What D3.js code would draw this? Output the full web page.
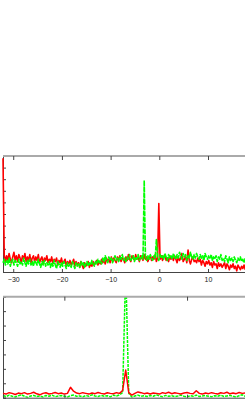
<!DOCTYPE html>
<html>
<head>
<meta charset="utf-8">
<script src="https://cdn.jsdelivr.net/npm/d3@7"></script>
<style>
  body { margin: 0; background: #fff; }
  #chart svg { display: block; }
  .tick text { font-family: "Liberation Sans", Arial, sans-serif; font-size: 7px; fill: #222; }
</style>
</head>
<body>
<div id="chart"></div>
<script>
// top panel: sampled spectra, first sample at x = -32.1, step 0.25
const topX0 = -32.1;
const topStep = 0.25;
const topRed = [
  9.8,
  1.5, 0.9, 1.4, 1.0, 1.6, 1.1, 0.8, 1.3, 1.7, 1.0, 1.4, 0.9, 1.5, 1.2, 0.8, 1.4, 1.1, 1.6, 0.9, 1.3,
  1.0, 1.5, 0.8, 1.2, 1.4, 0.9, 1.3, 1.0, 1.5, 0.8, 1.1, 1.3, 0.7, 1.2, 1.0, 1.4, 0.8, 1.1, 0.9, 1.3,
  0.7, 1.1, 0.9, 1.2, 0.6, 1.0, 0.8, 1.2, 0.7, 0.9, 1.1, 0.5, 0.9, 0.7, 1.0, 0.6, 0.8, 1.1, 0.5, 0.9,
  0.6, 0.8, 0.4, 0.9, 0.6, 0.3, 0.8, 0.5, 0.7, 0.9, 0.4, 0.7, 0.5, 0.9, 0.6, 0.8, 1.0, 0.6, 0.9, 0.7,
  1.1, 0.8, 1.0, 0.7, 1.2, 0.9, 1.1, 0.8, 1.3, 0.9, 1.2, 1.0, 0.8, 1.3, 1.0, 1.4, 0.9, 1.2, 1.1, 0.8,
  1.3, 1.0, 1.5, 1.1, 0.9, 1.4, 1.2, 1.0, 1.5, 1.1, 1.3, 0.9, 1.4, 1.2, 1.0, 1.5, 1.1, 1.3, 0.9, 1.2,
  1.4, 1.0, 1.3, 1.1, 1.5, 0.9, 1.2, 5.9, 1.1, 1.4, 1.0, 1.3, 1.5, 1.0, 1.2, 0.9, 1.4, 1.1, 1.3, 1.0,
  1.4, 1.1, 0.8, 1.3, 1.0, 1.2, 1.6, 0.9, 1.1, 1.3, 0.8, 1.9, 1.0, 0.7, 1.1, 1.3, 0.9, 1.0, 0.8, 1.2,
  0.9, 1.1, 0.6, 1.0, 0.8, 0.5, 0.9, 0.7, 1.0, 0.6, 0.8, 0.4, 0.9, 0.6, 0.7, 0.3, 0.8, 0.5, 0.7, 0.4,
  0.6, 0.8, 0.3, 0.7, 0.5, 0.2, 0.6, 0.4, 0.7, 0.3, 0.5, 0.1, 0.6, 0.4, 0.2, 0.5, 0.3, 0.6, 0.2
];
const topGreen = [
  0.8, 1.1, 0.6, 1.0, 0.7, 1.2, 0.5, 0.9, 1.1, 0.6, 1.0, 0.8, 0.5, 1.1, 0.7, 0.9, 0.6, 1.2, 0.8, 0.5,
  1.0, 0.7, 1.1, 0.6, 0.9, 0.5, 1.0, 0.8, 0.6, 1.1, 0.7, 0.4, 0.9, 0.6, 1.0, 0.5, 0.8, 0.6, 0.9, 0.4,
  0.8, 0.5, 1.0, 0.6, 0.3, 0.9, 0.7, 0.4, 0.8, 0.5, 0.9, 0.6, 0.3, 0.8, 0.5, 0.7, 0.4, 0.9, 0.6, 0.3,
  0.8, 0.5, 0.7, 0.4, 0.9, 0.6, 0.8, 0.4, 0.7, 0.9, 0.5, 0.8, 0.6, 1.0, 0.7, 0.5, 0.9, 0.7, 1.1, 0.8,
  1.0, 0.7, 1.2, 0.9, 1.4, 1.0, 0.8, 1.3, 1.0, 1.2, 0.8, 1.1, 1.4, 1.0, 1.2, 0.9, 1.3, 1.1, 1.5, 1.0,
  1.2, 0.9, 1.3, 1.1, 1.5, 1.0, 1.2, 1.4, 0.9, 1.3, 1.1, 1.5, 1.0, 1.2, 1.4, 1.1, 7.9, 1.2, 1.0, 1.4,
  1.1, 1.5, 1.2, 1.0, 1.4, 1.2, 2.8, 1.3, 1.0, 1.5, 1.2, 1.4, 1.1, 1.6, 1.3, 1.0, 1.5, 1.2, 1.4, 1.1,
  1.6, 1.3, 1.1, 1.5, 1.2, 1.7, 1.4, 1.1, 1.6, 1.3, 1.5, 1.0, 1.4, 1.2, 1.7, 1.3, 1.1, 1.5, 1.2, 1.6,
  1.3, 1.1, 1.5, 1.2, 1.4, 1.0, 1.6, 1.3, 1.1, 1.4, 1.2, 1.5, 1.0, 1.3, 1.1, 1.4, 0.9, 1.3, 1.1, 1.5,
  1.0, 1.2, 0.9, 1.4, 1.1, 0.8, 1.3, 1.0, 1.2, 0.9, 1.3, 1.0, 0.8, 1.2, 1.0, 1.3, 0.9, 1.1, 0.8, 1.2
];
const topXTicks = [-30, -20, -10, 0, 10];

// bottom panel: first sample at x = -10, step 0.25
const botX0 = -10;
const botStep = 0.25;
const botRed = [
  0.3, 0.25, 0.35, 0.3, 0.22, 0.32, 0.28, 0.35, 0.25, 0.3, 0.38, 0.27, 0.2, 0.3, 0.34, 0.26, 0.3, 0.36, 0.28, 0.32,
  0.25, 0.3, 0.72, 0.45, 0.32, 0.28, 0.35, 0.3, 0.25, 0.33, 0.28, 0.36, 0.3, 0.26, 0.34, 0.3, 0.27, 0.35, 0.3, 0.5,
  1.92, 0.35, 0.18, 0.3, 0.4, 0.35, 0.28, 0.32, 0.26, 0.33, 0.3, 0.25, 0.35, 0.3, 0.38, 0.28, 0.34, 0.3, 0.26, 0.32,
  0.36, 0.3, 0.27, 0.48, 0.3, 0.25, 0.33, 0.28, 0.35, 0.3, 0.26, 0.34, 0.3, 0.38, 0.27, 0.32, 0.28, 0.36, 0.3, 0.33
];
const botGreen = [
  0.15, 0.08, 0.18, 0.1, 0.05, 0.14, 0.2, 0.1, 0.02, 0.12, 0.16, 0.08, 0.12, 0.05, 0.15, 0.1, 0.18, 0.07, 0.12, 0.15,
  0.1, 0.05, 0.14, 0.18, 0.1, 0.12, 0.06, 0.15, 0.1, 0.2, 0.12, 0.08, 0.16, 0.1, 0.14, 0.06, 0.18, 0.12, 0.2, 0.35,
  9, 0.3, 0.05, 0.12, 0.18, 0.1, 0.14, 0.08, 0.15, 0.1, 0.2, 0.12, 0.06, 0.16, 0.1, 0.14, 0.08, 0.12, 0.18, 0.1,
  0.05, 0.14, 0.1, 0.18, 0.08, 0.12, 0.15, 0.1, 0.06, 0.14, 0.1, 0.18, 0.08, 0.12, 0.16, 0.1, 0.05, 0.14, 0.2, 0.1
];
const botXTicks = [-5, 5];

const width = 245, height = 400;

const svg = d3.select("#chart")
  .append("svg")
  .attr("width", width)
  .attr("height", height)
  .attr("viewBox", `0 0 ${width} ${height}`);

const defs = svg.append("defs");

function drawPanel(opt) {
  const x = d3.scaleLinear().domain(opt.xDomain).range(opt.xRange);
  const y = d3.scaleLinear().domain(opt.yDomain).range(opt.yRange);
  const top = opt.yRange[1], bottom = opt.yRange[0];
  const left = opt.xRange[0], right = opt.xRange[1];

  const g = svg.append("g").attr("class", opt.id);

  // clip for the data (a little wider on the left so the edge sample shows)
  defs.append("clipPath")
    .attr("id", opt.id + "Clip")
    .append("rect")
    .attr("x", left - 1.5)
    .attr("y", top)
    .attr("width", right - left + 1.5)
    .attr("height", bottom - top);

  const line = d3.line()
    .x((d, i) => x(opt.x0 + i * opt.step))
    .y(d => y(d));

  // left axis
  const leftAxis = g.append("g")
    .attr("transform", `translate(${left},0)`)
    .call(d3.axisLeft(y).ticks(opt.yTicks).tickSize(-3).tickFormat(""));
  leftAxis.select(".domain").attr("stroke", "#444");
  leftAxis.selectAll(".tick line").attr("stroke", "#444");

  const body = g.append("g").attr("clip-path", `url(#${opt.id}Clip)`);
  opt.series.forEach(s => {
    body.append("path")
      .datum(s.values)
      .attr("fill", "none")
      .attr("stroke", s.color)
      .attr("stroke-width", s.width)
      .attr("stroke-linejoin", "round")
      .attr("stroke-dasharray", s.dash || null)
      .attr("d", line);
  });

  // top border with inward ticks
  g.append("line")
    .attr("x1", left).attr("x2", right)
    .attr("y1", top).attr("y2", top)
    .attr("stroke", "#aaa")
    .attr("stroke-width", 2);
  const topAxis = g.append("g")
    .attr("transform", `translate(0,${top})`)
    .call(d3.axisTop(x).tickValues(opt.xTicks).tickSize(-4).tickFormat(""));
  topAxis.select(".domain").remove();
  topAxis.selectAll(".tick line").attr("stroke", "#444");

  // bottom axis
  const botAxis = g.append("g")
    .attr("transform", `translate(0,${bottom})`)
    .call(d3.axisBottom(x).tickValues(opt.xTicks).tickSize(-3).tickPadding(5)
      .tickFormat(opt.labels ? d3.format("d") : ""));
  botAxis.select(".domain").attr("stroke", "#444");
  botAxis.selectAll(".tick line").attr("stroke", "#444");

  return g;
}

drawPanel({
  id: "topPanel",
  xDomain: [-32.1, 20], xRange: [3, 256.7],
  yDomain: [0, 10], yRange: [272, 156],
  x0: topX0, step: topStep,
  xTicks: topXTicks, yTicks: 10, labels: true,
  series: [
    { values: topRed, color: "#ff0000", width: 1.6 },
    { values: topGreen, color: "#00ff00", width: 1.6, dash: "5,1" }
  ]
});

drawPanel({
  id: "botPanel",
  xDomain: [-10, 10], xRange: [3, 248.4],
  yDomain: [0, 7], yRange: [397.7, 296.7],
  x0: botX0, step: botStep,
  xTicks: botXTicks, yTicks: 7, labels: false,
  series: [
    { values: botGreen, color: "#00ff00", width: 1.5, dash: "3,1" },
    { values: botRed, color: "#ff0000", width: 1.5 }
  ]
});
</script>
</body>
</html>
